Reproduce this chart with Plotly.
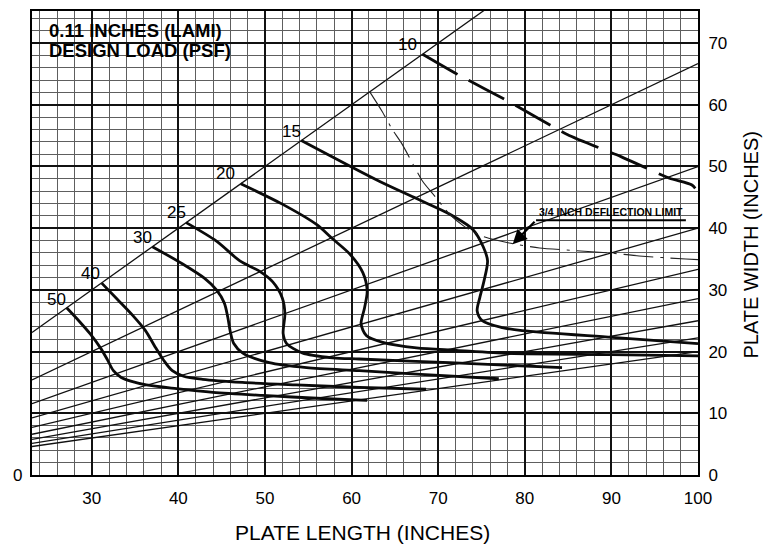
import plotly.graph_objects as go

# Plate length / width aspect lines (length divided by width)
aspect_ratios = [1.0, 1.5, 2.0, 2.5, 3.0, 3.5, 4.0, 4.5, 5.0]
aspect_x_span = [23.1, 100.0]

# Design load curves (psf): plate length x, plate width y
load50_x = [27.1, 28.5, 29.8, 31.0, 31.8, 32.5, 33.4, 34.5, 36.3, 39.8, 44.0, 49.7, 56.6, 61.8]
load50_y = [27.1, 25.0, 22.9, 20.6, 18.7, 16.9, 15.8, 15.2, 14.6, 14.0, 13.4, 12.9, 12.4, 12.1]

load40_x = [31.15, 33.0, 34.7, 36.2, 37.3, 38.3, 39.3, 40.6, 42.8, 47.4, 53.6, 60.9, 68.6]
load40_y = [31.1, 28.4, 25.9, 23.4, 20.8, 18.6, 16.9, 16.0, 15.5, 15.0, 14.6, 14.2, 13.9]

load30_x = [37.0, 40.5, 43.0, 44.4, 45.3, 45.7, 46.0, 46.4, 47.4, 50.5, 54.8, 60.9, 68.0, 77.0]
load30_y = [37.0, 34.2, 31.9, 30.0, 27.9, 25.6, 23.2, 21.3, 19.8, 18.2, 17.4, 16.9, 16.3, 15.6]

load25_x = [40.9, 44.4, 47.1, 49.4, 50.9, 52.0, 52.3, 52.1, 52.5, 54.3, 57.8, 60.9, 71.3, 84.3]
load25_y = [40.9, 37.9, 34.7, 33.0, 31.3, 28.7, 26.1, 22.9, 21.3, 19.8, 19.0, 18.8, 18.2, 17.4]

load20_x = [47.2, 52.0, 55.95, 57.7, 59.8, 61.3, 61.8, 61.5, 61.1, 61.7, 63.6, 67.5, 72.1, 78.2, 90.0, 100.0]
load20_y = [47.2, 43.9, 40.6, 38.4, 35.8, 32.8, 29.8, 27.1, 24.5, 22.6, 21.5, 20.6, 20.2, 19.7, 19.5, 19.3]

load15_x = [54.2, 63.2, 67.5, 71.3, 74.0, 75.2, 75.7, 75.3, 74.8, 74.5, 75.1, 77.4, 79.7, 90.1, 100.0]
load15_y = [54.2, 47.6, 44.8, 42.3, 39.8, 37.0, 34.7, 31.5, 28.7, 26.6, 25.0, 23.9, 23.4, 22.3, 21.3]

load10_x = [68.2, 72.4, 78.2, 84.9, 91.1, 96.7, 99.3, 100.2]
load10_y = [68.2, 64.8, 60.5, 55.2, 51.6, 48.1, 47.0, 45.5]

# 3/4 inch deflection limit
deflect_x = [62.1, 63.5, 64.7, 65.8, 68.2, 69.6, 71.3, 73.0, 75.1, 78.2, 81.7, 89.7, 93.2, 98.6, 100.0]
deflect_y = [62.1, 59.0, 56.0, 53.7, 47.6, 45.2, 42.3, 40.3, 38.7, 37.6, 36.8, 36.0, 35.5, 35.0, 34.9]

# Load label text and positions
load_labels = ["10", "15", "20", "25", "30", "40", "50"]
load_label_x = [66.45, 53.07, 45.4, 39.8, 35.9, 29.9, 25.96]
load_label_y = [69.7, 55.6, 48.8, 42.6, 38.5, 32.6, 28.5]

x_ticks = [30, 40, 50, 60, 70, 80, 90, 100]
y_ticks = [0, 10, 20, 30, 40, 50, 60, 70]

FONT = "Liberation Sans, Arial, Helvetica, sans-serif"

fig = go.Figure()

# Thin aspect-ratio lines
for a in aspect_ratios:
    fig.add_trace(go.Scatter(
        x=aspect_x_span, y=[v / a for v in aspect_x_span],
        mode="lines", line=dict(color="#111111", width=1.3),
        hoverinfo="skip", showlegend=False))

# Heavy design load curves
solid_curves = [(load50_x, load50_y), (load40_x, load40_y), (load30_x, load30_y),
                (load25_x, load25_y), (load20_x, load20_y), (load15_x, load15_y)]
for cx, cy in solid_curves:
    fig.add_trace(go.Scatter(
        x=cx, y=cy, mode="lines",
        line=dict(color="#0a0a0a", width=2.8, shape="spline", smoothing=0.8),
        hoverinfo="skip", showlegend=False))

# 10 psf curve lies beyond the deflection limit: dashed
fig.add_trace(go.Scatter(
    x=load10_x, y=load10_y, mode="lines",
    line=dict(color="#0a0a0a", width=2.8, dash="40px,13px", shape="spline", smoothing=0.6),
    hoverinfo="skip", showlegend=False))

# Deflection limit line
fig.add_trace(go.Scatter(
    x=deflect_x, y=deflect_y, mode="lines",
    line=dict(color="#222222", width=1.1, dash="30px,7px,3px,7px", shape="spline", smoothing=0.6),
    hoverinfo="skip", showlegend=False))

annotations = []
for t, lx, ly in zip(load_labels, load_label_x, load_label_y):
    annotations.append(dict(x=lx, y=ly, xref="x", yref="y", text=t, showarrow=False,
                            xanchor="center", yanchor="middle",
                            font=dict(family=FONT, size=17, color="#000")))

# Title block
annotations += [
    dict(x=0.0225, y=0.957, xref="paper", yref="paper", text="<b>0.11 INCHES (LAMI)</b>",
         showarrow=False, xanchor="left", yanchor="middle",
         font=dict(family=FONT, size=18.5, color="#000")),
    dict(x=0.0225, y=0.915, xref="paper", yref="paper", text="<b>DESIGN LOAD (PSF)</b>",
         showarrow=False, xanchor="left", yanchor="middle",
         font=dict(family=FONT, size=18.5, color="#000")),
]

# Deflection limit callout
annotations += [
    dict(x=89.9, y=42.6, xref="x", yref="y", text="<b>3/4 INCH DEFLECTION LIMIT</b>",
         showarrow=False, xanchor="center", yanchor="middle",
         font=dict(family=FONT, size=10.5, color="#000")),
    dict(x=78.6, y=37.4, xref="x", yref="y", ax=81.3, ay=41.3, axref="x", ayref="y",
         text="", showarrow=True, arrowhead=2, arrowsize=1.3, arrowwidth=2.2,
         arrowcolor="#000"),
]

# Axis titles and left-hand zero
annotations += [
    dict(x=0.496, y=-0.1245, xref="paper", yref="paper", text="PLATE LENGTH (INCHES)",
         showarrow=False, xanchor="center", yanchor="middle",
         font=dict(family=FONT, size=21, color="#000")),
    dict(x=1.079, y=0.496, xref="paper", yref="paper", text="PLATE WIDTH (INCHES)",
         showarrow=False, xanchor="center", yanchor="middle", textangle=-90,
         font=dict(family=FONT, size=20, color="#000")),
    dict(x=-0.0225, y=0.0, xref="paper", yref="paper", text="0",
         showarrow=False, xanchor="center", yanchor="middle",
         font=dict(family=FONT, size=17, color="#000")),
]

shapes = [
    # white panel behind the title block
    dict(type="rect", xref="paper", yref="paper", x0=0.012, x1=0.302, y0=0.884, y1=0.998,
         fillcolor="white", line=dict(width=0), layer="between"),
    # underline of the deflection callout
    dict(type="line", xref="x", yref="y", x0=81.3, x1=98.6, y0=41.3, y1=41.3,
         line=dict(color="#000", width=2)),
]

fig.update_layout(
    width=763, height=546,
    margin=dict(l=32, r=65, t=9, b=71),
    paper_bgcolor="white", plot_bgcolor="white",
    annotations=annotations, shapes=shapes,
    font=dict(family=FONT, color="#000"),
    xaxis=dict(range=[23.1, 100], tickvals=x_ticks, ticktext=[str(v) for v in x_ticks],
               showgrid=True, gridcolor="#111111", gridwidth=1.8,
               minor=dict(dtick=2, tick0=0, showgrid=True, gridcolor="#5e5e5e", gridwidth=1),
               showline=True, mirror=True, linecolor="#000", linewidth=2,
               ticks="outside", ticklen=7, tickcolor="rgba(0,0,0,0)",
               tickfont=dict(family=FONT, size=17), zeroline=False),
    yaxis=dict(range=[0, 75.2], tickvals=y_ticks, ticktext=[str(v) for v in y_ticks],
               side="right",
               showgrid=True, gridcolor="#111111", gridwidth=1.8,
               minor=dict(dtick=2, tick0=0, showgrid=True, gridcolor="#5e5e5e", gridwidth=1),
               showline=True, mirror=True, linecolor="#000", linewidth=2,
               ticks="outside", ticklen=5, tickcolor="rgba(0,0,0,0)",
               tickfont=dict(family=FONT, size=17), zeroline=False),
)

fig.write_html("out.html")
